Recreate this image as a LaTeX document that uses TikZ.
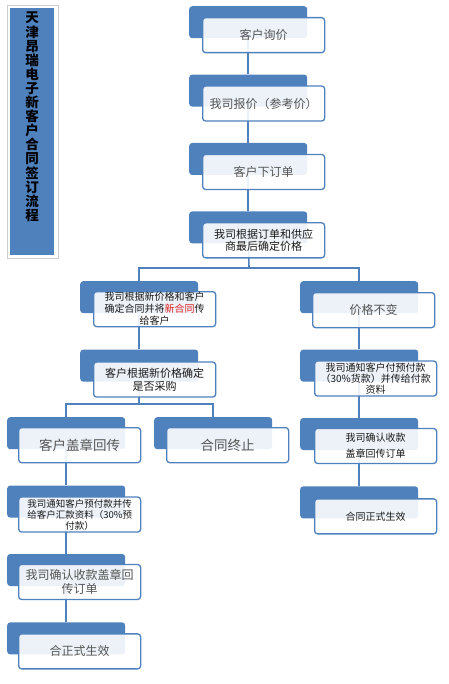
\documentclass[tikz,border=0pt]{standalone}
\usepackage{fontspec}
\setmainfont{Noto Sans CJK SC}
\usepackage{xcolor}
\usepackage{tikz}
\usetikzlibrary{positioning,backgrounds}
\definecolor{smartblue}{HTML}{4F81BD}
\definecolor{softtext}{HTML}{555555}
\definecolor{darktext}{HTML}{1A1A1A}
\definecolor{newred}{HTML}{E02020}

\begin{document}
\begin{tikzpicture}[
  x=1pt,y=-1pt,
  node distance=36pt,
  back/.style={rectangle,fill=smartblue,rounded corners=3pt,minimum width=118pt,minimum height=32pt,inner sep=0pt,anchor=north west},
  front/.style={rectangle,draw=smartblue,line width=1.3pt,fill=white,fill opacity=0.9,text opacity=1,rounded corners=3pt,minimum width=122pt,minimum height=35pt,inner sep=0pt,align=center},
  soft/.style={font=\fontsize{12}{14}\selectfont,text=softtext},
  dark/.style={font=\fontsize{10}{12}\selectfont,text=darktext},
  link/.style={draw=smartblue,line width=1.6pt}
]
  \useasboundingbox (0,0) rectangle (448,684);

  % title
  \node[draw=gray!40,fill=white,minimum width=51pt,minimum height=253pt,inner sep=0pt,anchor=north west] (titleframe) at (7,5) {};
  \node[fill=smartblue,minimum width=44pt,minimum height=247pt,inner sep=0pt,anchor=north west] (titlebox) at (10,8) {};
  \node[font=\fontsize{13.5}{14.1}\selectfont\bfseries,align=center,inner sep=0pt,anchor=north] (title) at (32,12)
    {天\\津\\昂\\瑞\\电\\子\\新\\客\\户\\合\\同\\签\\订\\流\\程};

  % main column
  \node[back] (n1b) at (189,6) {};
  \node[front,soft,below right=11pt and 13pt of n1b.north west,anchor=north west] (n1) {客户询价};
  \node[back,below=of n1b] (n2b) {};
  \node[front,soft,below right=11pt and 13pt of n2b.north west,anchor=north west] (n2) {我司报价（参考价）};
  \node[back,below=of n2b] (n3b) {};
  \node[front,soft,below right=11pt and 13pt of n3b.north west,anchor=north west] (n3) {客户下订单};
  \node[back,below=of n3b] (n4b) {};
  \node[front,dark,font=\fontsize{11}{12.5}\selectfont,below right=11pt and 13pt of n4b.north west,anchor=north west] (n4) {我司根据订单和供应\\商最后确定价格};

  % new price branch
  \node[back] (n5b) at (80,281) {};
  \node[front,dark,below right=10pt and 13pt of n5b.north west,anchor=north west] (n5) {我司根据新价格和客户\\确定合同并将\textcolor{newred}{新合同}传\\给客户};
  \node[back,below=of n5b] (n6b) {};
  \node[front,dark,font=\fontsize{11}{13}\selectfont,below right=12pt and 13pt of n6b.north west,anchor=north west] (n6) {客户根据新价格确定\\是否采购};

  % unchanged price branch
  \node[back] (r1b) at (300,281) {};
  \node[front,soft,below right=11pt and 12pt of r1b.north west,anchor=north west] (r1) {价格不变};
  \node[back,below=of r1b] (r2b) {};
  \node[front,dark,font=\fontsize{10}{11}\selectfont,below right=11pt and 14pt of r2b.north west,anchor=north west] (r2) {我司通知客户付预付款\\（30\%货款）并传给付款\\资料};
  \node[back,below=of r2b] (r3b) {};
  \node[front,dark,font=\fontsize{10}{16}\selectfont,below right=10pt and 14pt of r3b.north west,anchor=north west] (r3) {我司确认收款\\盖章回传订单};
  \node[back,below=of r3b] (r4b) {};
  \node[front,dark,below right=12pt and 14pt of r4b.north west,anchor=north west] (r4) {合同正式生效};

  % customer decision
  \node[back] (l1b) at (7,417) {};
  \node[front,soft,font=\fontsize{13.5}{15}\selectfont,below right=10pt and 11pt of l1b.north west,anchor=north west] (l1) {客户盖章回传};
  \node[back] (m1b) at (154,417) {};
  \node[front,soft,font=\fontsize{13.5}{15}\selectfont,below right=10pt and 12pt of m1b.north west,anchor=north west] (m1) {合同终止};
  \node[back,below=of l1b] (l2b) {};
  \node[front,dark,font=\fontsize{9.5}{11}\selectfont,below right=11pt and 11pt of l2b.north west,anchor=north west] (l2) {我司通知客户预付款并传\\给客户汇款资料（30\%预\\付款）};
  \node[back,below=of l2b] (l3b) {};
  \node[front,soft,below right=10pt and 11pt of l3b.north west,anchor=north west] (l3) {我司确认收款盖章回\\传订单};
  \node[back,below=of l3b] (l4b) {};
  \node[front,soft,below right=11pt and 11pt of l4b.north west,anchor=north west] (l4) {合正式生效};

  % connectors
  \coordinate (fork1) at (249,268);
  \coordinate (fork2) at (139,404);
  \begin{scope}[on background layer]
    \draw[link] (n1b.center) -- (n2b.north);
    \draw[link] (n2b.center) -- (n3b.north);
    \draw[link] (n3b.center) -- (n4b.north);
    \draw[link] (n4b.center) -- (fork1);
    \draw[link] (n5b.north) |- (fork1) -| (r1b.north);
    \draw[link] (n5b.center) -- (n6b.north);
    \draw[link] (r1b.center) -- (r2b.north);
    \draw[link] (r2b.center) -- (r3b.north);
    \draw[link] (r3b.center) -- (r4b.north);
    \draw[link] (n6b.center) -- (fork2);
    \draw[link] (l1b.north) |- (fork2) -| (m1b.north);
    \draw[link] (l1b.center) -- (l2b.north);
    \draw[link] (l2b.center) -- (l3b.north);
    \draw[link] (l3b.center) -- (l4b.north);
  \end{scope}
\end{tikzpicture}
\end{document}
